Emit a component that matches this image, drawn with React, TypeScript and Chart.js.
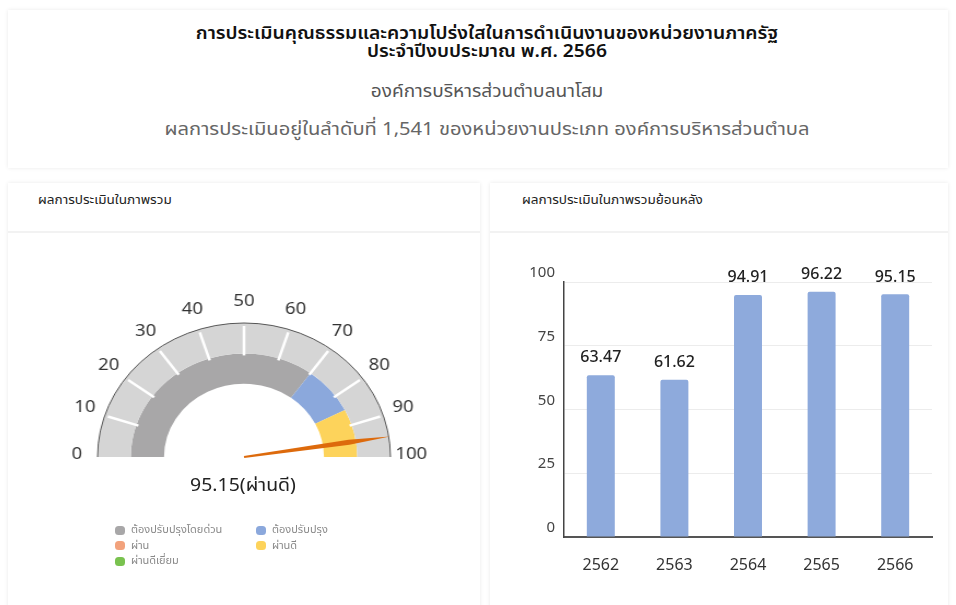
import React, { useEffect, useRef } from "react";
import { Chart, registerables } from "chart.js";
Chart.register(...registerables);

const FONT = "'Noto Sans Thai', 'Noto Sans', 'DejaVu Sans', sans-serif";

const titleLine1 = "การประเมินคุณธรรมและความโปร่งใสในการดำเนินงานของหน่วยงานภาครัฐ";
const titleLine2 = "ประจำปีงบประมาณ พ.ศ. 2566";
const orgName = "องค์การบริหารส่วนตำบลนาโสม";
const rankLine = "ผลการประเมินอยู่ในลำดับที่ 1,541 ของหน่วยงานประเภท องค์การบริหารส่วนตำบล";
const leftHeader = "ผลการประเมินในภาพรวม";
const rightHeader = "ผลการประเมินในภาพรวมย้อนหลัง";

// bar chart data
const years = ["2562", "2563", "2564", "2565", "2566"];
const scores = [63.47, 61.62, 94.91, 96.22, 95.15];
const yTicks = [0, 25, 50, 75, 100];

// gauge data
const levelLabels = ["ต้องปรับปรุงโดยด่วน", "ต้องปรับปรุง", "ผ่าน", "ผ่านดี", "ผ่านดีเยี่ยม"];
const levelColors = ["#a8a7a8", "#8ba8dc", "#f2a27c", "#fdd35b", "#79c24f"];
const gaugeBands = [70, 15, 0, 15, 0];
const gaugeScale = [100];
const gaugeTicks = [0, 10, 20, 30, 40, 50, 60, 70, 80, 90, 100];
const currentScore = 95.15;
const currentLevel = "ผ่านดี";

Chart.defaults.font.family = FONT;

function GaugeChart() {
  const ref = useRef<HTMLCanvasElement | null>(null);
  useEffect(() => {
    if (!ref.current) return;
    const gaugePlugin = {
      id: "gaugeDecor",
      afterDatasetsDraw(chart: any) {
        const ctx = chart.ctx;
        const arc = chart.getDatasetMeta(0).data[0];
        if (!arc) return;
        const p = arc.getProps(["x", "y", "outerRadius", "innerRadius"], true);
        const cx = p.x, cy = p.y, R = p.outerRadius, rMid = p.innerRadius;
        ctx.save();
        // outline
        ctx.beginPath();
        ctx.arc(cx, cy, R, Math.PI, 2 * Math.PI);
        ctx.strokeStyle = "#555";
        ctx.lineWidth = 1;
        ctx.stroke();
        // white ticks
        ctx.strokeStyle = "#ffffff";
        ctx.lineWidth = 2.5;
        gaugeTicks.forEach((v) => {
          if (v === 0 || v === 100) return;
          const a = Math.PI + (v / 100) * Math.PI;
          ctx.beginPath();
          ctx.moveTo(cx + Math.cos(a) * (rMid - 2), cy + Math.sin(a) * (rMid - 2));
          ctx.lineTo(cx + Math.cos(a) * (R - 3), cy + Math.sin(a) * (R - 3));
          ctx.stroke();
        });
        // labels
        ctx.fillStyle = "#333";
        ctx.font = `17px ${FONT}`;
        ctx.textAlign = "center";
        ctx.textBaseline = "middle";
        gaugeTicks.forEach((v) => {
          const a = Math.PI + (v / 100) * Math.PI;
          const lr = R + 19;
          ctx.fillText(String(v), cx + Math.cos(a) * lr, cy + Math.sin(a) * lr - 1);
        });
        // needle
        const a = Math.PI + (currentScore / 100) * Math.PI;
        const ux = Math.cos(a), uy = Math.sin(a);
        const nx = -uy, ny = ux;
        const L = R + 1;
        const m = 0.72 * L;
        ctx.beginPath();
        ctx.moveTo(cx + nx * 1, cy + ny * 1);
        ctx.lineTo(cx + ux * m + nx * 2.6, cy + uy * m + ny * 2.6);
        ctx.lineTo(cx + ux * L, cy + uy * L);
        ctx.lineTo(cx + ux * m - nx * 2.6, cy + uy * m - ny * 2.6);
        ctx.lineTo(cx - nx * 1, cy - ny * 1);
        ctx.closePath();
        ctx.fillStyle = "#dd6a0c";
        ctx.fill();
        ctx.restore();
      },
    };
    const chart = new Chart(ref.current, {
      type: "doughnut",
      data: {
        labels: levelLabels,
        datasets: [
          { data: gaugeScale, backgroundColor: ["#d5d5d5"], borderWidth: 0, weight: 1 } as any,
          { data: gaugeBands, backgroundColor: levelColors, borderWidth: 0, weight: 1 } as any,
        ],
      },
      options: {
        responsive: true,
        maintainAspectRatio: false,
        animation: false,
        circumference: 180,
        rotation: -90,
        radius: 134,
        cutout: "54.6%",
        layout: { padding: 0 },
        events: [],
        plugins: { legend: { display: false }, tooltip: { enabled: false } },
      } as any,
      plugins: [gaugePlugin],
    });
    return () => chart.destroy();
  }, []);
  return (
    <div
      style={{
        position: "absolute",
        left: 43.5,
        top: 240,
        width: 400,
        height: 300,
        transform: "scaleX(1.093)",
        transformOrigin: "200px 217px",
      }}
    >
      <canvas ref={ref} />
    </div>
  );
}

function BarChart() {
  const ref = useRef<HTMLCanvasElement | null>(null);
  useEffect(() => {
    if (!ref.current) return;
    const valuePlugin = {
      id: "valueLabels",
      afterDatasetsDraw(chart: any) {
        const ctx = chart.ctx;
        const meta = chart.getDatasetMeta(0);
        ctx.save();
        ctx.fillStyle = "#222";
        ctx.font = `500 16px ${FONT}`;
        ctx.textAlign = "center";
        ctx.textBaseline = "bottom";
        meta.data.forEach((bar: any, i: number) => {
          ctx.fillText(scores[i].toFixed(2), bar.x, bar.y - 8);
        });
        ctx.restore();
      },
    };
    const chart = new Chart(ref.current, {
      type: "bar",
      data: {
        labels: years,
        datasets: [
          {
            data: scores,
            backgroundColor: "#8eaadc",
            borderRadius: 2,
            borderSkipped: "bottom",
            barPercentage: 0.38,
            categoryPercentage: 1,
          } as any,
        ],
      },
      options: {
        responsive: true,
        maintainAspectRatio: false,
        animation: false,
        events: [],
        layout: { padding: { top: 42, right: 13, left: 0, bottom: 0 } },
        plugins: { legend: { display: false }, tooltip: { enabled: false } },
        scales: {
          x: {
            grid: { display: false },
            border: { display: true, color: "#555", width: 2 },
            ticks: { color: "#333", font: { size: 16 }, padding: 12 },
            afterFit: (s: any) => {
              s.height = 53;
            },
          },
          y: {
            min: 0,
            max: 100,
            afterBuildTicks: (s: any) => {
              s.ticks = yTicks.map((v) => ({ value: v }));
            },
            grid: { color: "#ececec", drawTicks: false },
            border: { display: true, color: "#444", width: 1.5 },
            ticks: { color: "#444", font: { size: 15 }, padding: 9, labelOffset: -8 },
            afterFit: (s: any) => {
              s.width = 64;
            },
          },
        },
      } as any,
      plugins: [valuePlugin],
    });
    return () => chart.destroy();
  }, []);
  return (
    <div style={{ position: "absolute", left: 500, top: 240, width: 445, height: 350 }}>
      <canvas ref={ref} />
    </div>
  );
}

const cardStyle = (left: number, top: number, width: number, height: number): React.CSSProperties => ({
  position: "absolute",
  left,
  top,
  width,
  height,
  background: "#fff",
  boxShadow: "0 0 4px rgba(0,0,0,0.09)",
});

const lineStyle = (top: number, scale: number, color: string, bold: boolean): React.CSSProperties => ({
  position: "absolute",
  left: 9,
  width: 940,
  top,
  textAlign: "center",
  fontSize: 18,
  fontWeight: bold ? 600 : 400,
  color,
  lineHeight: "18px",
  whiteSpace: "nowrap",
  transform: `scaleX(${scale})`,
  transformOrigin: "470px 0",
});

export default function App() {
  return (
    <div
      style={{
        position: "absolute",
        left: 0,
        top: 0,
        width: 956,
        height: 605,
        overflow: "hidden",
        background: "#fff",
        fontFamily: FONT,
      }}
    >
      <div style={cardStyle(8, 10, 940, 158)}>
        <div style={lineStyle(15, 1.07, "#111", true)}>{titleLine1}</div>
        <div style={lineStyle(33, 1.07, "#111", true)}>{titleLine2}</div>
        <div style={lineStyle(73, 1.06, "#555", false)}>{orgName}</div>
        <div style={lineStyle(111, 1.12, "#666", false)}>{rankLine}</div>
      </div>

      <div style={cardStyle(8, 183, 472, 440)}>
        <div
          style={{
            position: "absolute",
            left: 30,
            top: 10,
            fontSize: 12,
            color: "#222",
            lineHeight: "14px",
            whiteSpace: "nowrap",
            transform: "scaleX(1.13)",
            transformOrigin: "0 0",
          }}
        >
          {leftHeader}
        </div>
        <div style={{ position: "absolute", left: 0, right: 0, top: 48, height: 2, background: "#f2f2f2" }} />
      </div>

      <div style={cardStyle(490, 183, 458, 440)}>
        <div
          style={{
            position: "absolute",
            left: 32,
            top: 10,
            fontSize: 12,
            color: "#222",
            lineHeight: "14px",
            whiteSpace: "nowrap",
            transform: "scaleX(1.13)",
            transformOrigin: "0 0",
          }}
        >
          {rightHeader}
        </div>
        <div style={{ position: "absolute", left: 0, right: 0, top: 48, height: 2, background: "#f2f2f2" }} />
      </div>

      <GaugeChart />

      <div
        style={{
          position: "absolute",
          left: 93,
          width: 300,
          top: 476,
          lineHeight: "20px",
          textAlign: "center",
          fontSize: 18,
          color: "#222",
          transform: "scaleX(1.08)",
          transformOrigin: "150px 0",
        }}
      >
        {currentScore.toFixed(2)}({currentLevel})
      </div>

      {levelLabels.map((lab, i) => {
        const col = i % 2;
        const row = Math.floor(i / 2);
        const x = col === 0 ? 115 : 256;
        const y = 530 + row * 15.5;
        return (
          <div key={lab} style={{ position: "absolute", left: x, top: y - 6, height: 12, display: "flex", alignItems: "center" }}>
            <div style={{ width: 10, height: 9, borderRadius: 3.5, background: levelColors[i], marginRight: 6 }} />
            <div style={{ fontSize: 11, color: "#8a8a8a", lineHeight: "12px", whiteSpace: "nowrap" }}>{lab}</div>
          </div>
        );
      })}

      <BarChart />
    </div>
  );
}
